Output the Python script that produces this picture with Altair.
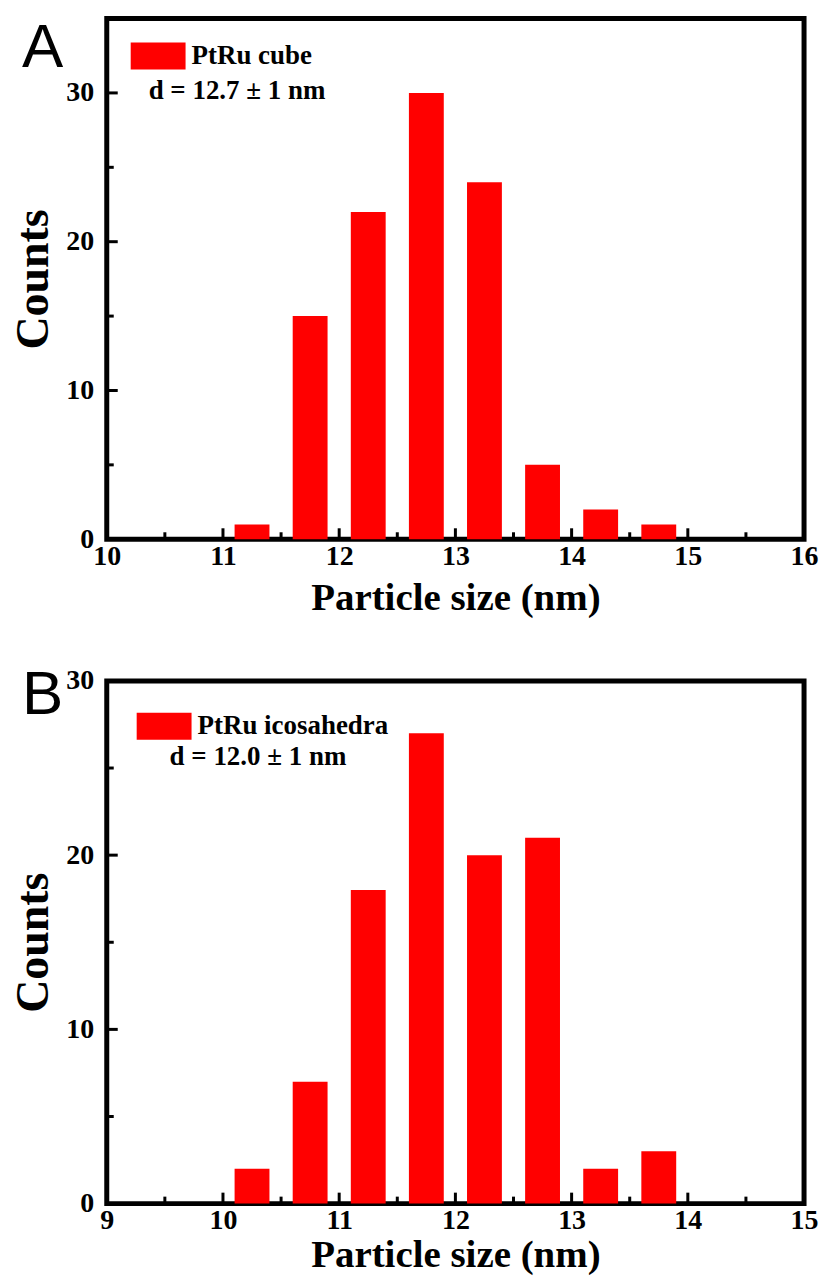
import altair as alt
import pandas as pd

# ---- data ----
a_size = [11.25, 11.75, 12.25, 12.75, 13.25, 13.75, 14.25, 14.75]
a_count = [1, 15, 22, 30, 24, 5, 2, 1]
b_size = [10.25, 10.75, 11.25, 11.75, 12.25, 12.75, 13.25, 13.75]
b_count = [2, 7, 18, 27, 20, 21, 2, 3]
bin_width = 0.3

a_xticks = [10, 11, 12, 13, 14, 15, 16]
b_xticks = [9, 10, 11, 12, 13, 14, 15]
a_yticks = [0, 10, 20, 30]
b_yticks = [0, 10, 20, 30]
a_ymax = 35
b_ymax = 30

a_name, b_name = "PtRu cube", "PtRu icosahedra"
a_note, b_note = "d = 12.7 \u00b1 1 nm", "d = 12.0 \u00b1 1 nm"
a_letter, b_letter = "A", "B"
x_title = "Particle size (nm)"
y_title = "Counts"

W = 699
SERIF = "Liberation Serif"
SANS = "Liberation Sans"
RED = "#ff0000"


def panel(sizes, counts, name, note, letter, xticks, ymax, yticks,
          legend_xy, note_xy, letter_y, H, xtitle_pad):
    xdom = [xticks[0], xticks[-1]]
    xs = alt.Scale(domain=xdom, nice=False, zero=False)
    ys = alt.Scale(domain=[0, ymax], nice=False, zero=True)
    xax = alt.Axis(values=xticks, title=x_title, format="d", titlePadding=xtitle_pad,
                   labelFlush=False, labelOverlap=False)
    yax = alt.Axis(values=yticks, title=y_title, format="d",
                   labelFlush=False, labelOverlap=False)
    df = pd.DataFrame({"size": sizes, "count": counts, "sample": [name] * len(sizes)})

    bars = alt.Chart(df).transform_calculate(
        lo=f"datum.size - {bin_width / 2}", hi=f"datum.size + {bin_width / 2}",
        base="0"
    ).mark_bar(opacity=1, strokeWidth=0).encode(
        x=alt.X("lo:Q", scale=xs, axis=xax),
        x2="hi:Q",
        y=alt.Y("count:Q", scale=ys, axis=yax),
        y2="base:Q",
        color=alt.Color("sample:N", scale=alt.Scale(domain=[name], range=[RED]),
                        legend=alt.Legend(orient="none", legendX=legend_xy[0],
                                          legendY=legend_xy[1], title=None,
                                          symbolType="M-1,-0.49L1,-0.49L1,0.49L-1,0.49Z",
                                          symbolSize=3025, symbolStrokeWidth=0,
                                          symbolOpacity=1, labelFont=SERIF,
                                          labelFontWeight="bold", labelFontSize=27,
                                          labelColor="black", labelOffset=6,
                                          labelLimit=400, padding=0)),
    )

    x_major = pd.DataFrame({"lo": xticks[1:-1]})
    x_minor = pd.DataFrame({"lo": [v + 0.5 for v in xticks[:-1]]})
    y_major = pd.DataFrame({"count": [v for v in yticks if 0 < v < ymax]})
    y_minor = pd.DataFrame({"count": [v + 5 for v in yticks if v + 5 < ymax]})

    def xrule(d, ln):
        return alt.Chart(d).mark_rule(color="black", strokeWidth=3).encode(
            x=alt.X("lo:Q", scale=xs, axis=xax),
            y=alt.value(H), y2=alt.value(H - ln))

    def yrule(d, ln):
        return alt.Chart(d).mark_rule(color="black", strokeWidth=3).encode(
            y=alt.Y("count:Q", scale=ys, axis=yax),
            x=alt.value(0), x2=alt.value(ln))

    letter_txt = alt.Chart(pd.DataFrame({"l": [letter]})).mark_text(
        font=SANS, fontSize=62, align="left", baseline="top", color="black"
    ).encode(text="l:N", x=alt.value(-85), y=alt.value(letter_y))

    note_txt = alt.Chart(pd.DataFrame({"l": [note]})).mark_text(
        font=SERIF, fontSize=27, fontWeight="bold", align="left",
        baseline="alphabetic", color="black"
    ).encode(text="l:N", x=alt.value(note_xy[0]), y=alt.value(note_xy[1]))

    return alt.layer(
        bars, xrule(x_major, 11), xrule(x_minor, 7), yrule(y_major, 11),
        yrule(y_minor, 7), letter_txt, note_txt
    ).properties(width=W, height=H)


pa = panel(a_size, a_count, a_name, a_note, a_letter, a_xticks, a_ymax, a_yticks,
           (24, 10), (42, 81), 0, 522, 8)
pb = panel(b_size, b_count, b_name, b_note, b_letter, b_xticks, b_ymax, b_yticks,
           (30, 18), (63, 84), -16, 524, 1)

chart = alt.vconcat(pa, pb, spacing=41).resolve_scale(
    color="independent", x="independent", y="independent"
).resolve_legend(color="independent").properties(
    padding={"left": 0, "top": 5, "right": 0, "bottom": 0},
    background="white",
).configure_view(
    stroke="black", strokeWidth=5
).configure_axis(
    domain=False, ticks=False, grid=False,
    labelFont=SERIF, labelFontWeight="bold", labelFontSize=28, labelColor="black",
    titleFont=SERIF, titleFontWeight="bold", titleFontSize=39, titleColor="black",
).configure_axisX(
    labelPadding=3
).configure_axisY(
    labelPadding=13, titlePadding=8, titleFontSize=46
)

chart.save("out.html", embed_options={"renderer": "svg", "actions": False})
